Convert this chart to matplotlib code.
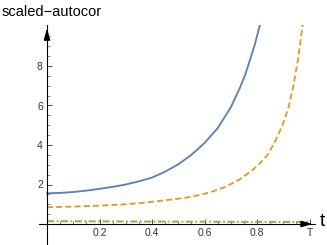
import matplotlib
matplotlib.use("Agg")
import matplotlib.pyplot as plt

# ---- data ----
blue_t = [0.0, 0.05, 0.1, 0.15, 0.2, 0.25, 0.3, 0.35, 0.4, 0.45, 0.5, 0.55, 0.6,
          0.65, 0.7, 0.735, 0.755, 0.773, 0.792, 0.811]
blue_v = [1.55, 1.575, 1.62, 1.69, 1.78, 1.88, 2.00, 2.16, 2.35, 2.65, 3.02, 3.50, 4.10,
          4.85, 5.90, 6.90, 7.55, 8.30, 9.10, 10.08]

orange_t = [0.0, 0.1, 0.2, 0.3, 0.37, 0.45, 0.5, 0.54, 0.58, 0.62, 0.68, 0.733, 0.78,
            0.811, 0.84, 0.862, 0.882, 0.9, 0.92, 0.938, 0.957, 0.974]
orange_v = [0.85, 0.88, 0.93, 1.00, 1.08, 1.20, 1.28, 1.36, 1.46, 1.60, 1.88, 2.25, 2.70,
            3.07, 3.50, 4.00, 4.55, 5.10, 5.90, 6.95, 8.40, 10.08]

green_t = [0.0, 0.25, 0.5, 0.75, 1.0]
green_v = [0.14, 0.13, 0.12, 0.11, 0.10]

x_ticks = [0.2, 0.4, 0.6, 0.8, 1.0]
x_tick_labels = ["0.2", "0.4", "0.6", "0.8", "T"]
y_ticks = [2, 4, 6, 8]
y_tick_labels = ["2", "4", "6", "8"]

plt.rcParams['font.family'] = ['Liberation Sans', 'DejaVu Sans']

W, H = 327, 245
fig = plt.figure(figsize=(W / 100, H / 100), dpi=100)

xlim = (-0.03, 1.02)
ylim = (-1.0, 10.1)
# pixel mapping: x = 47 + 262.5 t ; y = 224 - 19.75 v
px_l = 47 + 262.5 * xlim[0]
px_r = 47 + 262.5 * xlim[1]
py_b = 224 - 19.75 * ylim[0]
py_t = 224 - 19.75 * ylim[1]
ax = fig.add_axes([px_l / W, (H - py_b) / H, (px_r - px_l) / W, (py_b - py_t) / H])
ax.set_xlim(*xlim)
ax.set_ylim(*ylim)
ax.patch.set_alpha(0)

ax.plot(blue_t, blue_v, color='#5E81B5', lw=1.35, solid_joinstyle='round')
ax.plot(orange_t, orange_v, color='#E19C24', lw=1.35, dashes=(3.2, 1.7))
ax.plot(green_t, green_v, color='#8FB032', lw=1.35, dashes=(3.8, 1.3, 1.0, 1.3))

for s in ['top', 'right']:
    ax.spines[s].set_visible(False)
ax.spines['left'].set_position(('data', 0))
ax.spines['bottom'].set_position(('data', 0))
for s in ['left', 'bottom']:
    ax.spines[s].set_linewidth(0.8)
    ax.spines[s].set_color('black')

ax.set_xticks(x_ticks)
ax.set_xticklabels(x_tick_labels)
ax.set_yticks(y_ticks)
ax.set_yticklabels(y_tick_labels)
ax.set_xticks([i * 0.05 for i in range(1, 21) if i % 4 != 0], minor=True)
ax.set_yticks([i * 0.5 for i in range(1, 21) if i % 4 != 0], minor=True)
ax.tick_params(which='major', direction='in', length=3.5, width=0.6, labelsize=7.5,
               labelcolor='#333333', color='#333333', pad=3)
ax.tick_params(which='minor', direction='in', length=2, width=0.5, color='#555555')

# arrow heads
ax.annotate('', xy=(1.012, 0), xytext=(0.98, 0),
            arrowprops=dict(arrowstyle='-|>,head_length=0.7,head_width=0.2',
                            color='black', lw=0.8, shrinkA=0, shrinkB=0))
ax.annotate('', xy=(0, 9.9), xytext=(0, 9.3),
            arrowprops=dict(arrowstyle='-|>,head_length=0.7,head_width=0.2',
                            color='black', lw=0.8, shrinkA=0, shrinkB=0))

fig.text(322 / W, 1 - 221 / H, 't', fontsize=14, ha='center', va='center', color='black')
fig.text(2 / W, 1 - 12 / H, 'scaled\u2212autocor', fontsize=10.5, ha='left', va='center',
         color='black')

fig.savefig('out.png', dpi=100)
